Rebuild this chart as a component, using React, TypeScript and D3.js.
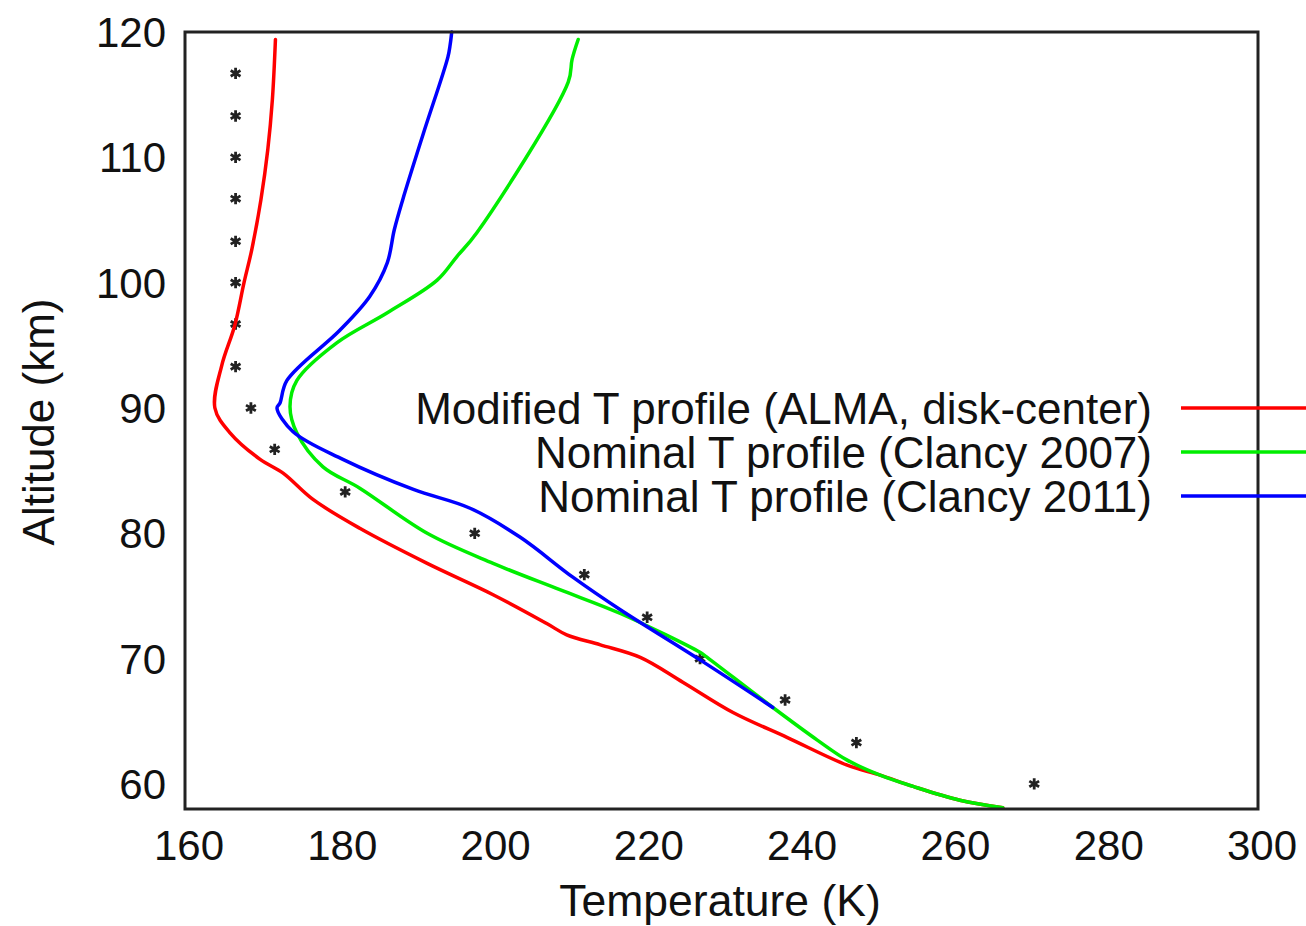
import React from "react";
import * as d3 from "d3";

// Temperature (K) / Altitude (km) pairs
const redT = [171.8, 171.4, 170.8, 169.9, 168.7, 167.7, 166.5, 164.8, 163.9, 165.9, 169.8, 172.8, 176.7, 182.8, 191.6, 200.2, 207.2, 209.8, 214.2, 219.4, 225.0, 231.5, 238.6, 246.4, 250.7, 255.0, 261.1, 266.7];
const redA = [119.4, 114.6, 110.6, 106.6, 102.6, 100.0, 96.6, 93.4, 90.0, 88.0, 85.9, 84.8, 82.7, 80.4, 77.6, 75.1, 72.8, 71.9, 71.1, 70.1, 68.1, 65.7, 63.7, 61.5, 60.7, 59.8, 58.7, 58.1];

const greenT = [211.3, 210.5, 210.0, 198.1, 195.5, 192.9, 186.4, 179.8, 174.6, 173.7, 174.6, 178.0, 182.8, 191.6, 200.2, 208.9, 216.8, 227.2, 227.9, 236.7, 242.5, 246.4, 250.7, 255.0, 261.1, 266.7];
const greenA = [119.4, 117.8, 116.0, 104.0, 102.1, 100.2, 97.6, 95.2, 92.2, 90.1, 88.0, 85.3, 83.6, 80.0, 77.6, 75.5, 73.6, 70.5, 70.2, 66.1, 63.5, 61.9, 60.7, 59.8, 58.7, 58.1];

const blueT = [194.8, 194.6, 194.3, 191.1, 188.4, 187.3, 186.4, 184.1, 180.2, 173.3, 172.4, 172.0, 174.1, 180.6, 189.8, 197.2, 203.7, 210.6, 216.8, 227.2, 236.7];
const blueA = [120.0, 119.0, 118.0, 111.9, 106.6, 104.2, 101.6, 98.9, 96.2, 92.2, 90.4, 90.0, 88.1, 85.9, 83.5, 82.0, 79.7, 76.5, 73.9, 69.9, 66.1];

const starT = [270.8, 247.6, 238.3, 227.2, 220.3, 212.1, 197.8, 180.9, 171.7, 168.6, 166.6, 166.6, 166.6, 166.6, 166.6, 166.6, 166.6, 166.6];
const starA = [60.0, 63.3, 66.7, 70.0, 73.3, 76.7, 80.0, 83.3, 86.7, 90.0, 93.3, 96.7, 100.0, 103.3, 106.7, 110.0, 113.3, 116.7];

const xTicks = [160, 180, 200, 220, 240, 260, 280, 300];
const yTicks = [60, 70, 80, 90, 100, 110, 120];

const seriesNames = [
  "Modified T profile (ALMA, disk-center)",
  "Nominal T profile (Clancy 2007)",
  "Nominal T profile (Clancy 2011)",
];
const seriesColors = ["#ff0000", "#00ee00", "#0000ff"];

const W = 1306;
const H = 926;
const L = 185, R = 1258, T = 32, B = 809;
const FONT = "'Liberation Sans', Arial, Helvetica, sans-serif";

export default function App() {
  const x = d3.scaleLinear().domain([160, 300]).range([L, R]);
  const y = d3.scaleLinear().domain([58, 120]).range([B, T]);
  const line = d3
    .line<[number, number]>()
    .x((d) => x(d[0]))
    .y((d) => y(d[1]))
    .curve(d3.curveCatmullRom.alpha(0.5));

  const zip = (a: number[], b: number[]) => a.map((v, i) => [v, b[i]] as [number, number]);
  const series = [zip(redT, redA), zip(greenT, greenA), zip(blueT, blueA)];
  const star = d3.symbol().type(d3.symbolAsterisk).size(90)();

  const legendY = [408, 452, 496];

  return (
    <svg
      width={W}
      height={H}
      style={{ position: "absolute", left: 0, top: 0, background: "#fff" }}
      fontFamily={FONT}
    >
      <rect x={0} y={0} width={W} height={H} fill="#fff" />
      {starT.map((t, i) => (
        <path
          key={"s" + i}
          d={star!}
          transform={`translate(${x(t)},${y(starA[i])})`}
          stroke="#222"
          strokeWidth={2.8}
          fill="none"
        />
      ))}
      {series.map((s, i) => (
        <path
          key={"l" + i}
          d={line(s)!}
          fill="none"
          stroke={seriesColors[i]}
          strokeWidth={3.5}
          strokeLinejoin="round"
          strokeLinecap="round"
        />
      ))}
      <rect x={L} y={T} width={R - L} height={B - T} fill="none" stroke="#222" strokeWidth={3} />
      {xTicks.map((t) => (
        <text key={"x" + t} x={x(t) + 4} y={860} textAnchor="middle" fontSize={42} fill="#111">
          {t}
        </text>
      ))}
      {yTicks.map((t) => (
        <text key={"y" + t} x={166} y={y(t)} dy="0.36em" textAnchor="end" fontSize={42} fill="#111">
          {t}
        </text>
      ))}
      <text x={720} y={916} textAnchor="middle" fontSize={44.5} fill="#111">
        Temperature (K)
      </text>
      <text transform={`translate(54,422) rotate(-90)`} textAnchor="middle" fontSize={44} fill="#111">
        Altitude (km)
      </text>
      {seriesNames.map((n, i) => (
        <g key={"lg" + i}>
          <text x={1152} y={legendY[i]} dy="0.36em" textAnchor="end" fontSize={44} fill="#111">
            {n}
          </text>
          <line x1={1181} x2={1310} y1={legendY[i]} y2={legendY[i]} stroke={seriesColors[i]} strokeWidth={3.5} />
        </g>
      ))}
    </svg>
  );
}
